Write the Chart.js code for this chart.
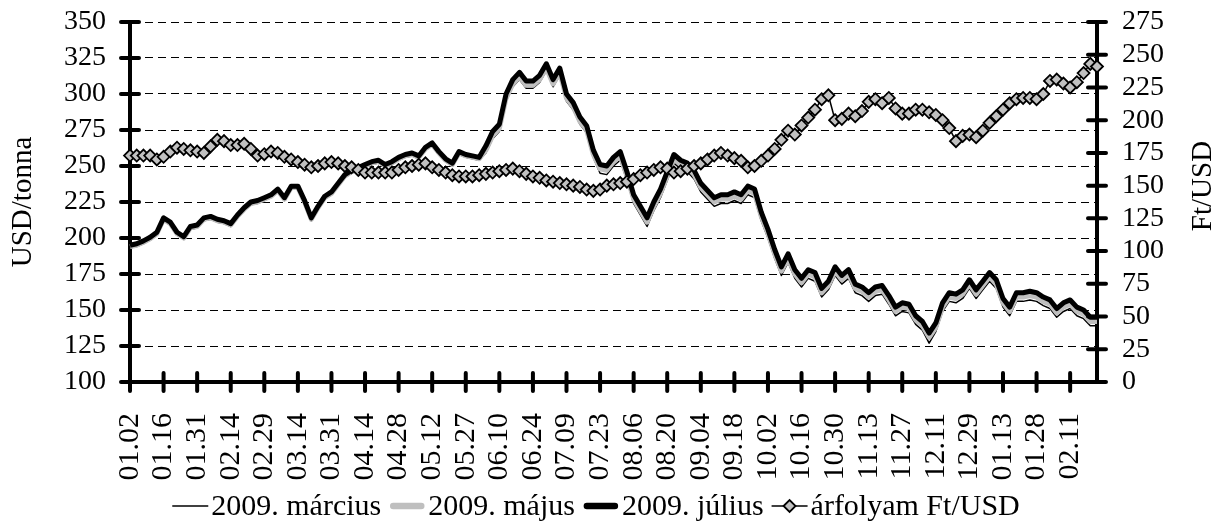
<!DOCTYPE html>
<html>
<head>
<meta charset="utf-8">
<script src="https://cdn.jsdelivr.net/npm/chart.js@4.4.1/dist/chart.umd.min.js"></script>
<style>
  html, body { margin: 0; padding: 0; background: #fff; }
  #wrap { width: 1218px; height: 529px; }
</style>
</head>
<body>
<div id="wrap"><canvas id="chart" width="1218" height="529"></canvas></div>
<script>
// tick labels, one every 10 trading days (data below is sampled every 2nd day)
const tickLabels = ["01.02", "01.16", "01.31", "02.14", "02.29", "03.14", "03.31", "04.14", "04.28",
  "05.12", "05.27", "06.10", "06.24", "07.09", "07.23", "08.06", "08.20", "09.04", "09.18",
  "10.02", "10.16", "10.30", "11.13", "11.27", "12.11", "12.29", "01.13", "01.28", "02.11"];
const seriesNames = ["2009. március", "2009. május", "2009. július", "árfolyam Ft/USD"];
const axisTitles = { left: "USD/tonna", right: "Ft/USD" };

const march = [
  193, 194, 196, 198.5, 202, 212, 209, 202, 199, 206,
  207, 212, 213, 211, 210, 208, 214, 219, 223, 224,
  226, 228, 232, 226, 234, 234, 224, 212, 220, 227,
  230, 236, 242, 245, 247, 249, 251, 252, 249, 251,
  254, 256, 257, 255, 261, 264, 258, 253, 250, 258,
  256, 255, 254, 259, 269, 274, 295, 305, 310, 304,
  304, 308, 316, 305, 313, 295, 289, 279, 273, 256,
  245, 244, 250, 254, 240, 224, 216, 208, 219, 228,
  240, 252, 248, 246, 241, 232, 227, 222, 224, 224,
  226, 224, 230, 228, 212, 200, 186, 174, 183, 172,
  166, 172, 170, 159, 164, 174, 168, 172, 162, 160,
  156, 160, 161, 154, 146, 149, 148, 140, 136, 127,
  135, 149, 156, 155, 158, 165, 158, 164, 170, 165,
  152, 146, 156, 156, 157, 156, 153, 151, 145, 149,
  151, 146, 144, 139, 139];
const may = [
  194, 195, 197, 199.5, 203, 213, 210, 203, 200, 207,
  208, 213, 214, 212, 211, 209, 215, 220, 224, 225,
  227, 229, 233, 227, 235, 235, 225, 213, 221, 228,
  231, 237, 243, 246, 248, 250, 252, 253, 250, 252,
  255, 257, 258, 256, 262, 265, 259, 254, 251, 259,
  257, 256, 255, 261, 271, 276, 297, 307, 312, 306,
  306, 310, 318, 307, 315, 297, 291, 281, 275, 258,
  248, 247, 253, 257, 243, 227, 219, 211, 222, 231,
  243, 255, 251, 249, 244, 235, 230, 225, 227, 227,
  229, 227, 233, 231, 215, 203, 189, 177, 186, 175,
  169, 175, 173, 162, 167, 177, 171, 175, 165, 163,
  159, 163, 164, 157, 149, 152, 151, 143, 139, 131,
  138, 152, 159, 158, 161, 168, 161, 167, 173, 168,
  155, 149, 159, 159, 160, 159, 156, 154, 148, 152,
  154, 149, 147, 142, 142];
const july = [
  195, 196, 198, 200.5, 204, 214, 211, 204, 201, 208,
  209, 214, 215, 213, 212, 210, 216, 221, 225, 226,
  228, 230, 234, 228, 236, 236, 226, 214, 222, 229,
  232, 238, 244, 247, 249, 251, 253, 254, 251, 253,
  256, 258, 259, 257, 263, 266, 260, 255, 252, 260,
  258, 257, 256, 264, 274, 279, 300, 310, 315, 309,
  309, 313, 321, 310, 318, 300, 294, 284, 278, 261,
  251, 250, 256, 260, 246, 230, 222, 214, 225, 234,
  246, 258, 254, 252, 247, 238, 233, 228, 230, 230,
  232, 230, 236, 234, 218, 206, 192, 180, 189, 178,
  172, 178, 176, 165, 170, 180, 174, 178, 168, 166,
  162, 166, 167, 160, 152, 155, 154, 146, 142, 134,
  141, 155, 162, 161, 164, 171, 164, 170, 176, 171,
  158, 152, 162, 162, 163, 162, 159, 157, 151, 155,
  157, 152, 150, 145, 145];
const rate = [
  173, 173, 173, 173, 170, 172, 176, 179, 178, 177,
  176, 175, 180, 185, 184, 181, 181, 182, 178, 173,
  174, 176, 175, 172, 170, 168, 166, 164, 165, 167,
  168, 167, 165, 164, 162, 160, 160, 160, 160, 160,
  162, 164, 165, 166, 167, 164, 162, 160, 158, 157,
  157, 157, 158, 159, 160, 161, 162, 163, 161, 159,
  157, 156, 154, 153, 152, 151, 150, 149, 147, 146,
  147, 150, 151, 152, 153, 155, 158, 160, 162, 164,
  163, 160, 161, 163, 165, 167, 170, 173, 175, 173,
  171, 169, 164, 165, 169, 173, 178, 185, 192, 189,
  196, 202, 208, 216, 219, 200, 201, 205, 203, 207,
  214, 216, 213, 217, 209, 205, 205, 208, 208, 206,
  204, 200, 194, 184, 188, 189, 187, 192, 198, 203,
  208, 213, 216, 217, 217, 216, 220, 230, 231, 228,
  225, 229, 236, 243, 241];

// one category per sample, label on every 5th
const categories = july.map((_, j) => (j % 5 === 0 && tickLabels[j / 5]) || "");

const serif = "'Liberation Serif', 'Times New Roman', serif";
Chart.defaults.font.family = serif;
Chart.defaults.color = "#000";

// crossing tick marks, axis titles and legend, drawn on top
const decor = {
  id: "decor",
  afterDraw(chart) {
    const { ctx, chartArea: a } = chart;
    const { x, y, y2 } = chart.scales;
    ctx.save();
    ctx.strokeStyle = "#000";
    ctx.lineWidth = 4;
    ctx.lineCap = "round";
    ctx.beginPath();
    y.ticks.forEach(t => {
      const p = y.getPixelForValue(t.value);
      ctx.moveTo(a.left - 9, p); ctx.lineTo(a.left + 9, p);
    });
    y2.ticks.forEach(t => {
      const p = y2.getPixelForValue(t.value);
      ctx.moveTo(a.right - 9, p); ctx.lineTo(a.right + 9, p);
    });
    categories.forEach((c, j) => {
      if (!c) return;
      const p = x.getPixelForValue(j);
      ctx.moveTo(p, a.bottom - 9); ctx.lineTo(p, a.bottom + 9);
    });
    ctx.stroke();

    // axis titles, both reading upwards
    ctx.fillStyle = "#000";
    ctx.font = "29px " + serif;
    ctx.textAlign = "center";
    ctx.textBaseline = "middle";
    ctx.save();
    ctx.translate(23, (a.top + a.bottom) / 2);
    ctx.rotate(-Math.PI / 2);
    ctx.fillText(axisTitles.left, 0, 0);
    ctx.restore();
    ctx.save();
    ctx.translate(1203, 186);
    ctx.rotate(-Math.PI / 2);
    ctx.fillText(axisTitles.right, 0, 0);
    ctx.restore();

    // legend
    const ds = chart.data.datasets;
    ctx.font = "30px " + serif;
    ctx.textAlign = "left";
    const symW = 36, gap = 3, itemGap = 8, ly = 506;
    const widths = ds.map(d => ctx.measureText(d.label).width);
    const total = widths.reduce((s, w) => s + w + symW + gap, 0) + itemGap * (ds.length - 1);
    let lx = 596 - total / 2;
    ds.forEach((d, i) => {
      ctx.beginPath();
      ctx.strokeStyle = d.borderColor;
      ctx.lineWidth = d.borderWidth > 2 ? d.borderWidth + 1.5 : d.borderWidth;
      ctx.lineCap = d.borderWidth > 2 ? "round" : "butt";
      const inset = d.borderWidth > 2 ? 4 : 0;
      ctx.moveTo(lx + inset, ly); ctx.lineTo(lx + symW - inset, ly);
      ctx.stroke();
      if (d.pointRadius) {
        const cx = lx + symW / 2, r = d.pointRadius;
        ctx.beginPath();
        ctx.moveTo(cx - r, ly); ctx.lineTo(cx, ly - r); ctx.lineTo(cx + r, ly); ctx.lineTo(cx, ly + r);
        ctx.closePath();
        ctx.fillStyle = d.pointBackgroundColor; ctx.fill();
        ctx.lineWidth = d.pointBorderWidth; ctx.strokeStyle = d.pointBorderColor; ctx.stroke();
      }
      ctx.fillStyle = "#000";
      ctx.fillText(d.label, lx + symW + gap, ly + 1);
      lx += symW + gap + widths[i] + itemGap;
    });
    ctx.restore();
  }
};

const tickFont = { family: serif, size: 28 };

// fixed axis box sizes so the plot area sits where the reference has it
function fixY(width) {
  return s => { s.width = width; s.paddingTop = 0; s.paddingBottom = 0; };
}

new Chart(document.getElementById("chart"), {
  type: "line",
  data: {
    labels: categories,
    datasets: [
      { label: seriesNames[0], data: march, yAxisID: "y", borderColor: "#000", borderWidth: 1.5, pointRadius: 0, order: 4 },
      { label: seriesNames[1], data: may, yAxisID: "y", borderColor: "#bfbfbf", borderWidth: 5, pointRadius: 0, order: 3 },
      { label: seriesNames[2], data: july, yAxisID: "y", borderColor: "#000", borderWidth: 5, pointRadius: 0, order: 2 },
      {
        label: seriesNames[3], data: rate, yAxisID: "y2", borderColor: "#000", borderWidth: 1.5,
        pointStyle: "rectRot", pointRadius: 6, pointBackgroundColor: "#c0c0c0",
        pointBorderColor: "#000", pointBorderWidth: 1.8, order: 1,
      },
    ],
  },
  options: {
    responsive: false,
    animation: false,
    devicePixelRatio: 1,
    layout: { padding: { top: 22, left: 0, right: 0, bottom: 0 } },
    elements: { line: { tension: 0, borderJoinStyle: "round" } },
    plugins: { legend: { display: false }, tooltip: { enabled: false } },
    scales: {
      x: {
        type: "category",
        offset: false,
        grid: { display: false },
        border: { display: true, width: 4, color: "#000" },
        ticks: {
          autoSkip: false, minRotation: 90, maxRotation: 90, padding: 23,
          font: { family: serif, size: 30 }, color: "#000",
          callback: (v, i) => categories[i] || null,
        },
        afterFit: s => { s.height = 147; s.paddingLeft = 0; s.paddingRight = 0; },
      },
      y: {
        position: "left",
        min: 100, max: 350,
        grid: { color: "#000", lineWidth: 1, drawTicks: false },
        border: { display: true, width: 4, color: "#000", dash: [8, 5] },
        ticks: { stepSize: 25, autoSkip: false, padding: 24, font: tickFont, color: "#000" },
        afterFit: fixY(130),
      },
      y2: {
        position: "right",
        min: 0, max: 275,
        grid: { drawOnChartArea: false, drawTicks: false },
        border: { display: true, width: 4, color: "#000" },
        ticks: { stepSize: 25, autoSkip: false, padding: 25, font: tickFont, color: "#000" },
        afterFit: fixY(121),
      },
    },
  },
  plugins: [decor],
});
</script>
</body>
</html>
